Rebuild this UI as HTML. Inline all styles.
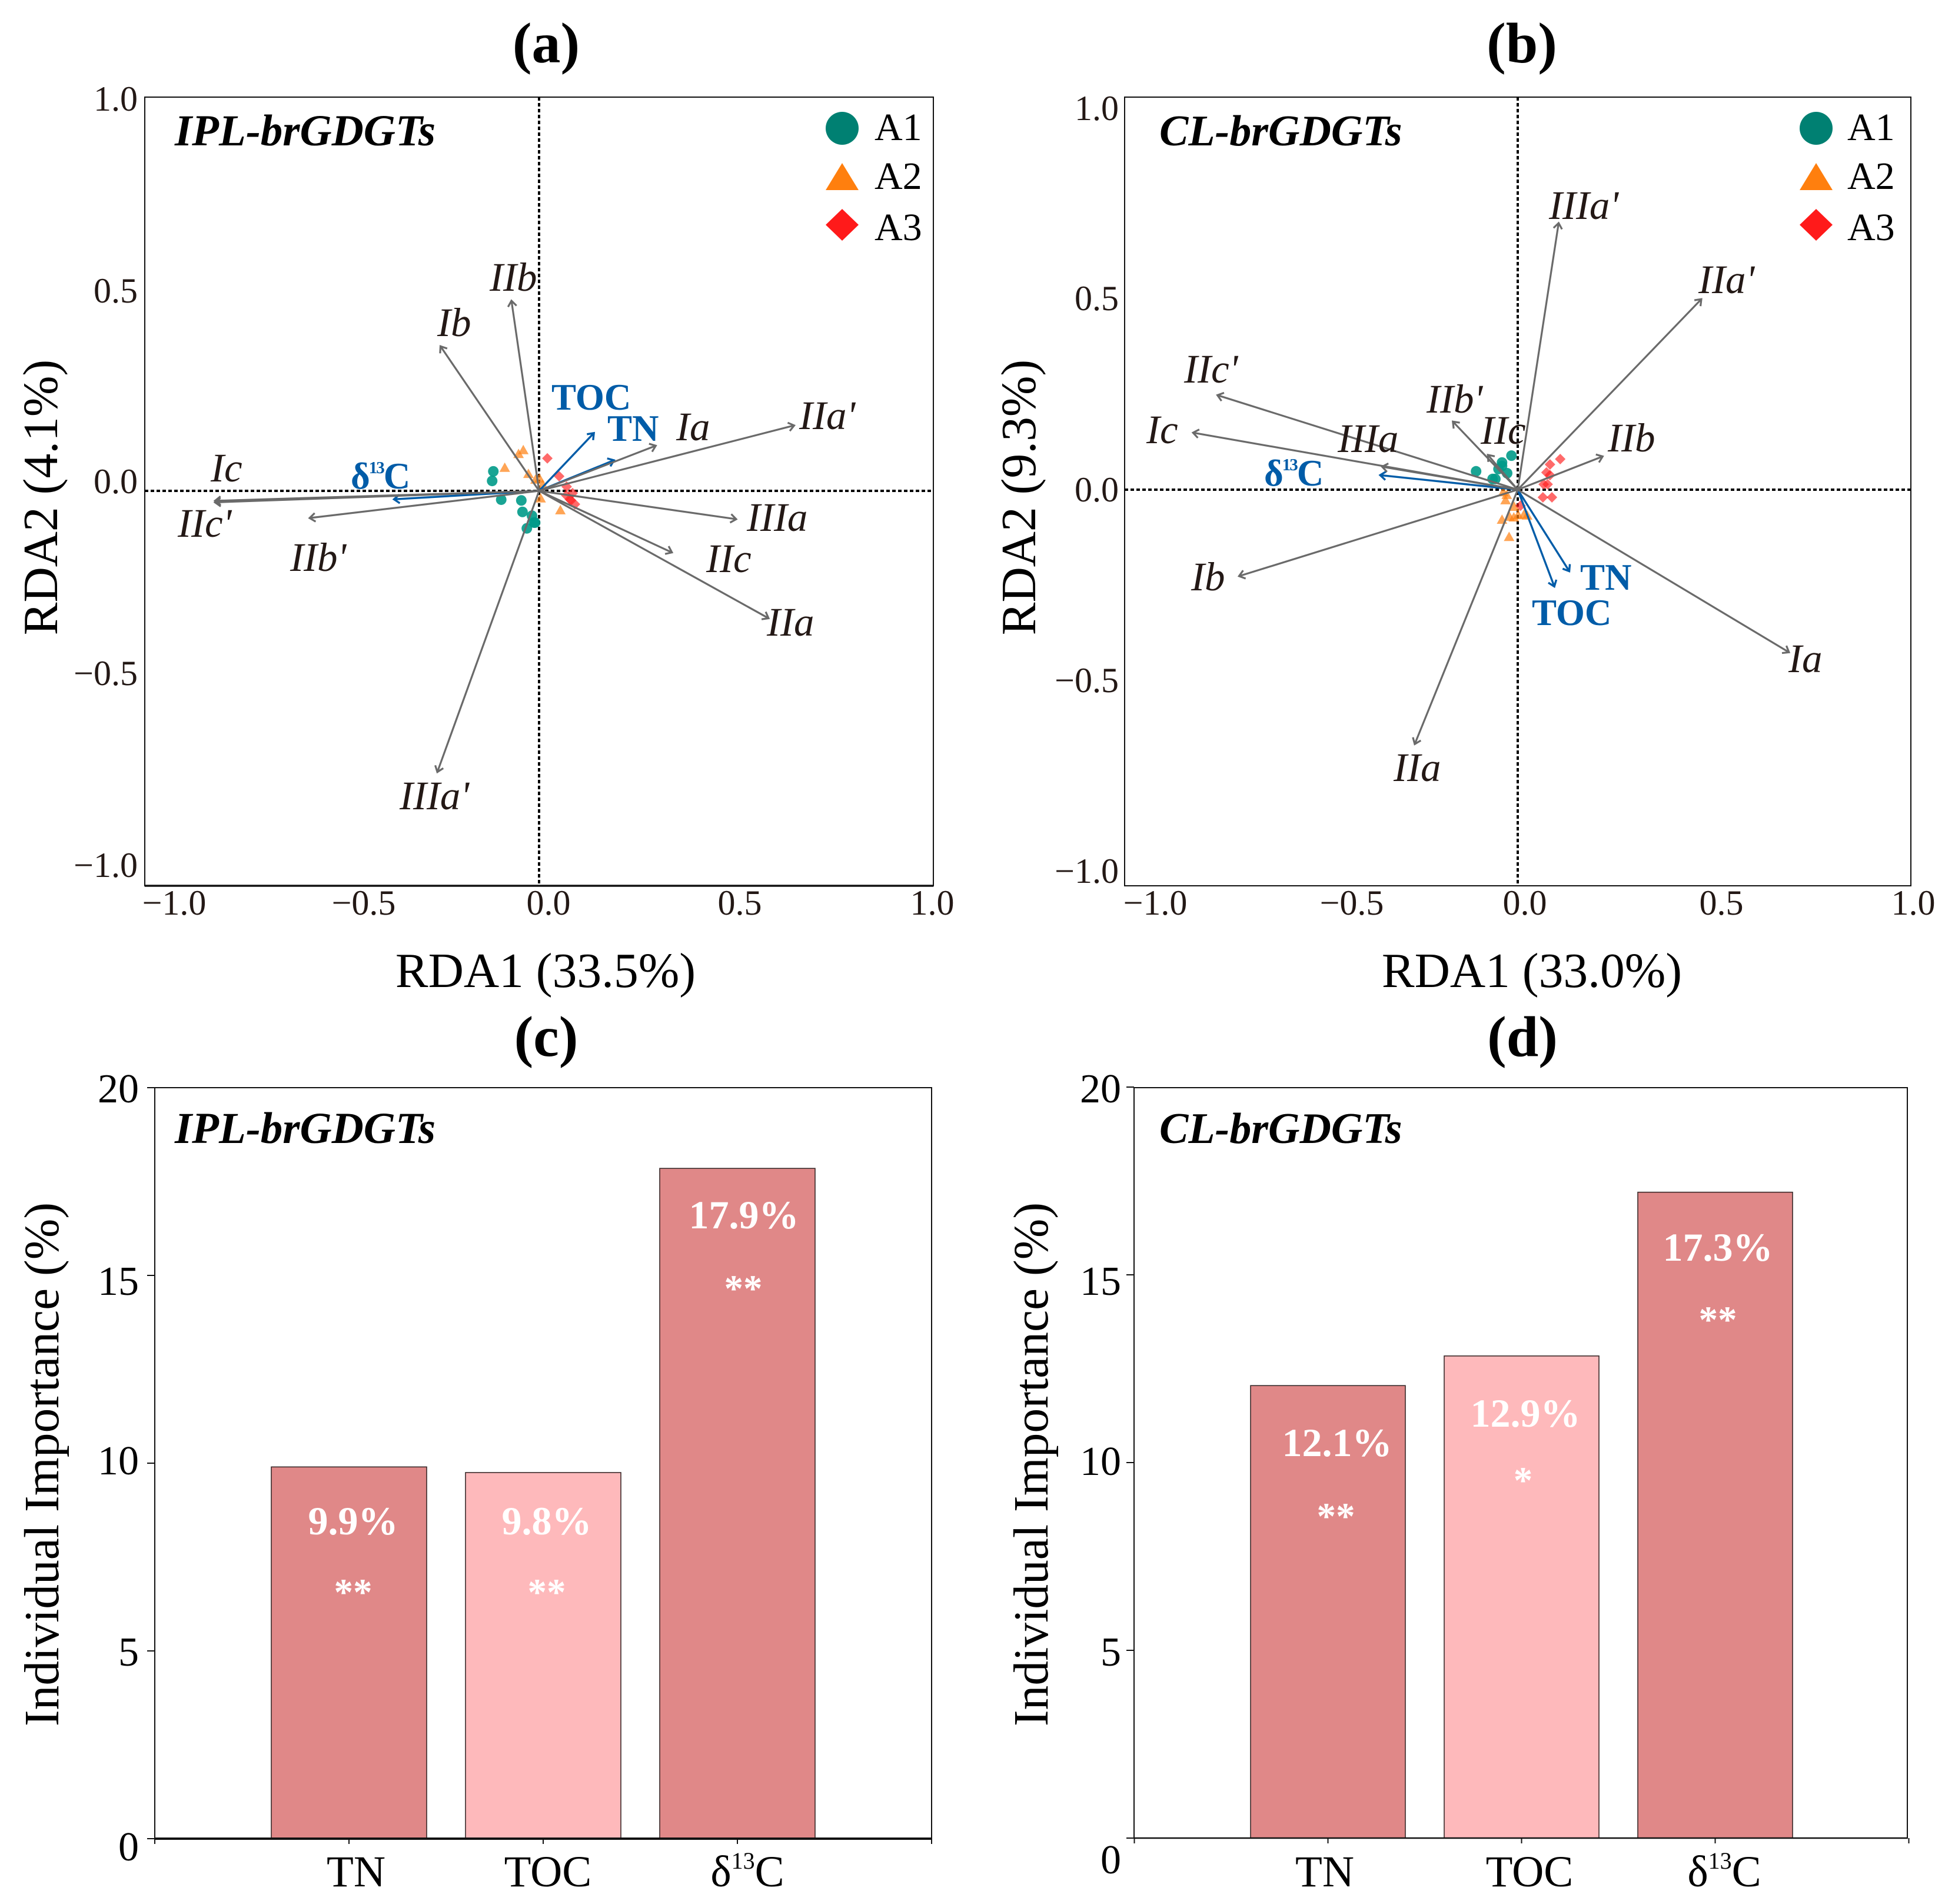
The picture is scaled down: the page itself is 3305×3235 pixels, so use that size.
<!DOCTYPE html>
<html lang="en">
<head>
<meta charset="utf-8">
<title>RDA biplots and individual importance of brGDGTs</title>
<style>
html,body{margin:0;padding:0;background:#fff;}
svg{display:block;}
text{font-family:"Liberation Serif",serif;}
.tick{font-size:60px;fill:#231815;}
.tick-l{font-size:70px;fill:#000;}
.tick-x{font-size:75px;fill:#000;text-anchor:middle;}
.axis{font-size:83.5px;fill:#000;}
.panel{font-size:98px;font-weight:bold;fill:#000;text-anchor:middle;}
.sub{font-size:75px;font-weight:bold;font-style:italic;fill:#000;}
.sub2{font-size:74px;font-weight:bold;font-style:italic;fill:#000;}
.sp{font-size:69px;font-style:italic;fill:#231815;}
.env{font-size:63px;font-weight:bold;fill:#005ca8;}
.env13{font-size:63px;font-weight:bold;fill:#005ca8;letter-spacing:-2px;}
.leg{font-size:66px;fill:#000;}
.val{font-size:68px;font-weight:bold;fill:#fff;text-anchor:middle;}
.star{font-size:65px;font-weight:bold;fill:#fff;text-anchor:middle;}
.mid{text-anchor:middle;}
.end{text-anchor:end;}
</style>
</head>
<body>
<svg id="figure" xmlns="http://www.w3.org/2000/svg" width="3305" height="3235" viewBox="0 0 3305 3235">
<rect width="3305" height="3235" fill="#fff"/>

<!-- Panel titles -->
<text class="panel" x="928" y="106">(a)</text>
<text class="panel" x="2586" y="106">(b)</text>
<text class="panel" x="928" y="1794">(c)</text>
<text class="panel" x="2587" y="1794">(d)</text>

<g id="marks-a"></g>
<g id="marks-b"></g>
<g id="marks-c"></g>
<g id="marks-d"></g>

<!-- Panel a text -->
<text class="sub" x="297" y="247">IPL-brGDGTs</text>
<text class="tick end" x="234" y="188">1.0</text>
<text class="tick end" x="234" y="514">0.5</text>
<text class="tick end" x="234" y="838">0.0</text>
<text class="tick end" x="234" y="1164">−0.5</text>
<text class="tick end" x="234" y="1490">−1.0</text>
<text class="tick mid" x="296" y="1554">−1.0</text>
<text class="tick mid" x="618" y="1554">−0.5</text>
<text class="tick mid" x="932" y="1554">0.0</text>
<text class="tick mid" x="1257" y="1554">0.5</text>
<text class="tick mid" x="1584" y="1554">1.0</text>
<text class="axis mid" x="927" y="1677">RDA1 (33.5%)</text>
<text class="axis mid" x="97" y="845" transform="rotate(-90 97 845)">RDA2 (4.1%)</text>
<text class="sp" x="743" y="571">Ib</text>
<text class="sp" x="832" y="494">IIb</text>
<text class="sp" x="1149" y="748">Ia</text>
<text class="sp" x="1358" y="729">IIa'</text>
<text class="sp" x="358" y="818">Ic</text>
<text class="sp" x="1269" y="902">IIIa</text>
<text class="sp" x="1200" y="972">IIc</text>
<text class="sp" x="1303" y="1080">IIa</text>
<text class="sp" x="302" y="912">IIc'</text>
<text class="sp" x="493" y="970">IIb'</text>
<text class="sp" x="679" y="1375">IIIa'</text>
<text class="env" x="937" y="696">TOC</text>
<text class="env" x="1032" y="749">TN</text>
<text class="env13" x="596" y="830">δ<tspan font-size="29" dy="-26">13</tspan><tspan dy="26">C</tspan></text>
<text class="leg" x="1486" y="238">A1</text>
<text class="leg" x="1486" y="321">A2</text>
<text class="leg" x="1486" y="408">A3</text>

<!-- Panel b text -->
<text class="sub2" x="1970" y="247">CL-brGDGTs</text>
<text class="tick end" x="1901" y="204">1.0</text>
<text class="tick end" x="1901" y="527">0.5</text>
<text class="tick end" x="1901" y="852">0.0</text>
<text class="tick end" x="1901" y="1176">−0.5</text>
<text class="tick end" x="1901" y="1500">−1.0</text>
<text class="tick mid" x="1963" y="1554">−1.0</text>
<text class="tick mid" x="2297" y="1554">−0.5</text>
<text class="tick mid" x="2591" y="1554">0.0</text>
<text class="tick mid" x="2925" y="1554">0.5</text>
<text class="tick mid" x="3251" y="1554">1.0</text>
<text class="axis mid" x="2603" y="1677">RDA1 (33.0%)</text>
<text class="axis mid" x="1759" y="845" transform="rotate(-90 1759 845)">RDA2 (9.3%)</text>
<text class="sp" x="2632" y="372">IIIa'</text>
<text class="sp" x="2886" y="498">IIa'</text>
<text class="sp" x="2012" y="650">IIc'</text>
<text class="sp" x="2424" y="701">IIb'</text>
<text class="sp" x="1948" y="753">Ic</text>
<text class="sp" x="2273" y="768">IIIa</text>
<text class="sp" x="2516" y="754">IIc</text>
<text class="sp" x="2732" y="767">IIb</text>
<text class="sp" x="2024" y="1003">Ib</text>
<text class="sp" x="3039" y="1142">Ia</text>
<text class="sp" x="2368" y="1327">IIa</text>
<text class="env" x="2685" y="1002">TN</text>
<text class="env" x="2603" y="1062">TOC</text>
<text class="env13" x="2148" y="825">δ<tspan font-size="29" dy="-26">13</tspan><tspan dy="26">C</tspan></text>
<text class="leg" x="3139" y="238">A1</text>
<text class="leg" x="3139" y="321">A2</text>
<text class="leg" x="3139" y="408">A3</text>

<!-- Panel c text -->
<text class="sub" x="297" y="1942">IPL-brGDGTs</text>
<text class="tick-l end" x="236" y="1873">20</text>
<text class="tick-l end" x="236" y="2200">15</text>
<text class="tick-l end" x="236" y="2505">10</text>
<text class="tick-l end" x="236" y="2830">5</text>
<text class="tick-l end" x="236" y="3161">0</text>
<text class="tick-x" x="605" y="3205">TN</text>
<text class="tick-x" x="931" y="3205">TOC</text>
<text class="tick-x" x="1270" y="3205">δ<tspan font-size="40" dy="-30">13</tspan><tspan dy="30">C</tspan></text>
<text class="axis mid" x="99" y="2488" transform="rotate(-90 99 2488)">Individual Importance (%)</text>
<text class="val" x="600" y="2607">9.9%</text>
<text class="star" x="600" y="2727">**</text>
<text class="val" x="929" y="2607">9.8%</text>
<text class="star" x="929" y="2727">**</text>
<text class="val" x="1264" y="2087">17.9%</text>
<text class="star" x="1263" y="2211">**</text>

<!-- Panel d text -->
<text class="sub2" x="1970" y="1942">CL-brGDGTs</text>
<text class="tick-l end" x="1905" y="1873">20</text>
<text class="tick-l end" x="1905" y="2200">15</text>
<text class="tick-l end" x="1905" y="2506">10</text>
<text class="tick-l end" x="1905" y="2830">5</text>
<text class="tick-l end" x="1905" y="3183">0</text>
<text class="tick-x" x="2251" y="3205">TN</text>
<text class="tick-x" x="2599" y="3205">TOC</text>
<text class="tick-x" x="2930" y="3205">δ<tspan font-size="40" dy="-30">13</tspan><tspan dy="30">C</tspan></text>
<text class="axis mid" x="1780" y="2488" transform="rotate(-90 1780 2488)">Individual Importance (%)</text>
<text class="val" x="2272" y="2474">12.1%</text>
<text class="star" x="2270" y="2598">**</text>
<text class="val" x="2592" y="2424">12.9%</text>
<text class="star" x="2588" y="2537">*</text>
<text class="val" x="2919" y="2142">17.3%</text>
<text class="star" x="2919" y="2264">**</text>
</svg>

<script>
// Panel a: species arrows
const aSpeciesNames = ['Ic','IIc-prime','IIb-prime','Ib','IIb','Ia','IIa-prime','IIIa','IIc','IIa','IIIa-prime'];
const aSpeciesX = [-0.822,-0.822,-0.582,-0.250,-0.070,0.296,0.647,0.500,0.337,0.582,-0.258];
const aSpeciesY = [-0.026,-0.030,-0.071,0.378,0.497,0.118,0.171,-0.074,-0.161,-0.333,-0.735];
// Panel a: environmental arrows
const aEnvNames = ['TOC','TN','d13C'];
const aEnvX = [0.139,0.190,-0.368];
const aEnvY = [0.151,0.080,-0.022];
// Panel a: sample scores
const aA1X = [-0.116,-0.119,-0.096,-0.045,-0.042,-0.018,-0.013,-0.010,-0.031];
const aA1Y = [0.051,0.026,-0.023,-0.025,-0.055,-0.065,-0.083,-0.083,-0.098];
const aA2X = [-0.087,-0.052,-0.040,-0.027,-0.009,0.001,0.009,0.004,0.054];
const aA2Y = [0.062,0.098,0.108,0.046,0.031,0.034,0.018,-0.018,-0.049];
const aA3X = [0.021,0.051,0.070,0.085,0.069,0.081,0.091,0.078];
const aA3Y = [0.085,0.038,0.011,-0.006,-0.012,-0.025,-0.035,-0.022];

// Panel b: species arrows
const bSpeciesNames = ['IIIa-prime','IIa-prime','IIc-prime','Ic','IIIa','IIb-prime','IIc','IIb','Ib','IIa','Ia'];
const bSpeciesX = [0.104,0.467,-0.764,-0.826,-0.345,-0.165,-0.076,0.216,-0.709,-0.262,0.690];
const bSpeciesY = [0.697,0.498,0.247,0.149,0.060,0.178,0.091,0.087,-0.226,-0.665,-0.425];
// Panel b: environmental arrows
const bEnvNames = ['TN','TOC','d13C'];
const bEnvX = [0.131,0.093,-0.350];
const bEnvY = [-0.213,-0.253,0.038];
// Panel b: sample scores
const bA1X = [-0.016,-0.040,-0.049,-0.027,-0.040,-0.106,-0.064,-0.057];
const bA1Y = [0.089,0.071,0.054,0.043,0.062,0.048,0.028,0.028];
const bA2X = [-0.037,-0.028,-0.031,-0.009,-0.040,-0.021,-0.010,0.001,0.016,0.024,-0.022];
const bA2Y = [-0.005,-0.012,-0.026,-0.043,-0.077,-0.069,-0.071,-0.065,-0.063,-0.066,-0.122];
const bA3X = [0.108,0.082,0.073,0.082,0.066,0.076,0.064,0.087,0.007];
const bA3Y = [0.080,0.066,0.045,0.038,0.014,0.014,-0.020,-0.020,-0.042];

// Panels c and d: bars
const barCategories = ['tn','toc','d13c'];
const cImportance = [9.9,9.75,17.85];
const dImportance = [12.05,12.84,17.2];
const barTicks = [0,5,10,15,20];

const NS = 'http://www.w3.org/2000/svg';
function mk(parent, tag, attrs){
  const el = document.createElementNS(NS, tag);
  for (const k in attrs) el.setAttribute(k, attrs[k]);
  parent.appendChild(el);
  return el;
}
function trianglePts(cx, cy, w, h){
  return (cx-w/2)+','+(cy+h/2)+' '+cx+','+(cy-h/2)+' '+(cx+w/2)+','+(cy+h/2);
}
function diamondPts(cx, cy, w, h){
  return (cx-w/2)+','+cy+' '+cx+','+(cy-h/2)+' '+(cx+w/2)+','+cy+' '+cx+','+(cy+h/2);
}
function drawArrow(g, sx, sy, x, y, color, width){
  const x0 = sx(0), y0 = sy(0), x1 = sx(x), y1 = sy(y);
  const a = Math.atan2(y1-y0, x1-x0), L = 12, sp = 0.65;
  const d = 'M'+x0+' '+y0+'L'+x1+' '+y1+
    'M'+(x1-L*Math.cos(a-sp))+' '+(y1-L*Math.sin(a-sp))+'L'+x1+' '+y1+
    'L'+(x1-L*Math.cos(a+sp))+' '+(y1-L*Math.sin(a+sp));
  return mk(g, 'path', {d:d, fill:'none', stroke:color, 'stroke-width':width});
}

function drawRda(id, prefix, box, sx, sy, series, legendX, bottomWidth){
  const g = document.getElementById(id);
  const frame = mk(g, 'rect', {x:box.l, y:box.t, width:box.r-box.l, height:box.b-box.t, fill:'#fff', stroke:'#111', 'stroke-width':2});
  
  
  const bottom = mk(g, 'line', {x1:box.l, x2:box.r, y1:box.b, y2:box.b, stroke:'#111', 'stroke-width':bottomWidth});
  
  
  const hz = mk(g, 'line', {x1:box.l, x2:box.r, y1:sy(0), y2:sy(0), stroke:'#000', 'stroke-width':4, 'stroke-dasharray':'6 4'});
  
  
  const vt = mk(g, 'line', {x1:sx(0), x2:sx(0), y1:box.t, y2:box.b, stroke:'#000', 'stroke-width':4, 'stroke-dasharray':'6 4'});
  
  

  series.a1x.forEach(function(v,i){
    const c = mk(g, 'circle', {cx:sx(v), cy:sy(series.a1y[i]), r:9, fill:'#009a88', opacity:0.9});
    
    
  });
  series.a2x.forEach(function(v,i){
    const t = mk(g, 'polygon', {points:trianglePts(sx(v), sy(series.a2y[i]), 18, 16), fill:'#ff7f0e', opacity:0.7});
    
    
  });
  series.a3x.forEach(function(v,i){
    const p = mk(g, 'polygon', {points:diamondPts(sx(v), sy(series.a3y[i]), 18, 18), fill:'#ff1a1a', opacity:0.65});
    
    
  });
  series.envX.forEach(function(v,i){
    const e = drawArrow(g, sx, sy, v, series.envY[i], '#005ca8', 3.4);
    
    
  });
  series.spX.forEach(function(v,i){
    const s = drawArrow(g, sx, sy, v, series.spY[i], '#6a6a6a', 3.2);
    
    
  });

  const l1 = mk(g, 'circle', {cx:legendX, cy:218, r:28, fill:'#008072'});
  
  
  const l2 = mk(g, 'polygon', {points:trianglePts(legendX, 300, 56, 46), fill:'#ff7f0e'});
  
  
  const l3 = mk(g, 'polygon', {points:diamondPts(legendX, 382, 56, 54), fill:'#ff1a1a'});
  
  
}

function drawBars(id, prefix, box, sx, bandW, sy, values, baseW){
  const g = document.getElementById(id);
  const frame = mk(g, 'rect', {x:box.l, y:box.t, width:box.r-box.l, height:box.b-box.t, fill:'#fff', stroke:'#111', 'stroke-width':2});
  
  
  values.forEach(function(v,i){
    const r = mk(g, 'rect', {x:sx(i)-bandW/2, y:sy(v), width:bandW, height:sy(0)-sy(v),
      fill:(i===1?'#feb9bb':'#e08888'), stroke:'#3a2a2a', 'stroke-width':1.6});
    
    
  });
  const base = mk(g, 'line', {x1:box.l, x2:box.r, y1:sy(0), y2:sy(0), stroke:'#111', 'stroke-width':baseW});
  
  
  barTicks.forEach(function(t){
    const k = mk(g, 'line', {x1:box.l-13, x2:box.l, y1:sy(t), y2:sy(t), stroke:'#111', 'stroke-width':2});
    
    
  });
  [-1,0,1,2,3].forEach(function(i){
    const k = mk(g, 'line', {x1:sx(i), x2:sx(i), y1:sy(0), y2:sy(0)+9, stroke:'#111', 'stroke-width':2});
    
    
  });
}

function aX(v){ return 916 + 670*v; }
function aY(v){ return 834 - 650*v; }
function bX(v){ return 2579 + 668*v; }
function bY(v){ return 832 - 650*v; }
function cX(i){ return 593 + 330*i; }
function cY(v){ return 3124 - 63.8*v; }
function dX(i){ return 2256.5 + 329*i; }
function dY(v){ return 3123 - 63.8*v; }

drawRda('marks-a', 'a', {l:246,r:1586,t:165,b:1505}, aX, aY, {
  spNames:aSpeciesNames, spX:aSpeciesX, spY:aSpeciesY,
  envNames:aEnvNames, envX:aEnvX, envY:aEnvY,
  a1x:aA1X, a1y:aA1Y, a2x:aA2X, a2y:aA2Y, a3x:aA3X, a3y:aA3Y
}, 1431, 3.5);
drawRda('marks-b', 'b', {l:1911,r:3247,t:165,b:1505}, bX, bY, {
  spNames:bSpeciesNames, spX:bSpeciesX, spY:bSpeciesY,
  envNames:bEnvNames, envX:bEnvX, envY:bEnvY,
  a1x:bA1X, a1y:bA1Y, a2x:bA2X, a2y:bA2Y, a3x:bA3X, a3y:bA3Y
}, 3086, 2);
drawBars('marks-c', 'c', {l:263,r:1583,t:1848,b:3124}, cX, 264, cY, cImportance, 4);
drawBars('marks-d', 'd', {l:1927,r:3241,t:1848,b:3123}, dX, 263, dY, dImportance, 2.5);
</script>
</body>
</html>
